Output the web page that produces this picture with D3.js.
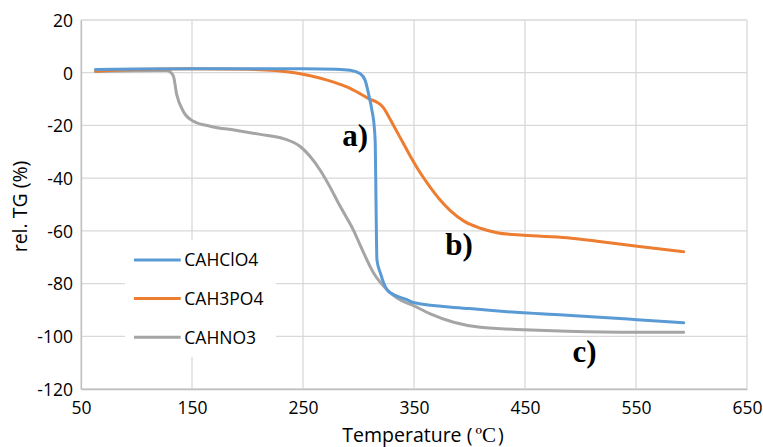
<!DOCTYPE html>
<html>
<head>
<meta charset="utf-8">
<script src="https://cdn.jsdelivr.net/npm/d3@7"></script>
<style>
  body { margin: 0; background: #fff; }
  svg { display: block; }
  text { font-family: 'Open Sans', sans-serif; fill: #000; }
</style>
</head>
<body>
<svg id="chart" width="763" height="447"></svg>
<script>
// series (temperature in degC, rel. TG in %)
const seriesNames = ['CAHClO4', 'CAH3PO4', 'CAHNO3'];
const seriesColors = ['#5b9bd5', '#ed7d31', '#a5a5a5'];

const clo4Temp = [63, 100, 150, 200, 250, 280, 292.6, 301.6, 306, 309, 312.1, 314.2, 315.1, 315.8, 316.6, 319.7, 322.6, 325.6, 331.6, 343.7, 349.4, 400, 448.6, 488, 551, 593];
const clo4TG = [1.2, 1.4, 1.5, 1.5, 1.5, 1.3, 0.9, -0.4, -2.9, -7.9, -14.2, -20.6, -26.9, -50, -71, -76, -79.7, -82.3, -84.2, -86.1, -87.2, -89.5, -91.1, -92, -93.7, -94.9];

const h3po4Temp = [63, 100, 150, 200, 225, 247.5, 265, 277, 290, 301.6, 310, 316.6, 322.6, 327, 331.6, 340, 346.7, 355, 364.7, 373, 382.7, 395, 409.8, 424.8, 448.8, 488, 515, 551, 593];
const h3po4TG = [0.6, 1.2, 1.5, 1.3, 0.8, -0.4, -2, -3.5, -5.5, -8, -10, -11.2, -13.3, -16.5, -20, -26.5, -31.7, -37.6, -43.5, -48, -52.3, -56.3, -59, -60.7, -61.7, -62.6, -63.9, -65.8, -67.9];

const hno3Temp = [63, 100, 127, 133, 136.3, 142.2, 151.3, 166.3, 190.4, 211.4, 232.4, 247.5, 256.5, 265.5, 274.5, 282, 289.6, 295.5, 301.6, 313.6, 325.6, 334.7, 349.6, 364.7, 385.7, 409.8, 448.8, 487.9, 551, 593];
const hno3TG = [0.5, 0.7, 0.8, -1, -8.4, -14.7, -18.4, -20.3, -21.9, -23.4, -25, -28, -31.8, -37, -43.5, -49.5, -55.2, -59.8, -65.5, -76, -82.3, -85.5, -88.4, -91.5, -94.7, -96.6, -97.5, -98.1, -98.5, -98.5];

const xTicks = [50, 150, 250, 350, 450, 550, 650];
const yTicks = [20, 0, -20, -40, -60, -80, -100, -120];

// where the a) b) c) marks sit, in data units (left edge, baseline)
const labelText = ['a)', 'b)', 'c)'];
const labelTemp = [285.3, 378.2, 492.7];
const labelTG = [-27.9, -69.1, -109.9];

const margin = { top: 20, right: 16, bottom: 58, left: 81 };
let svg = d3.select('#chart'),
    width = +svg.attr('width') - margin.left - margin.right,
    height = +svg.attr('height') - margin.top - margin.bottom,
    g = svg.append('g').attr('transform', `translate(${margin.left},${margin.top})`);

let x = d3.scaleLinear().domain([50, 650]).range([0, width]);
let y = d3.scaleLinear().domain([-120, 20]).range([height, 0]);

// grid
g.append('g')
  .selectAll('line')
  .data(xTicks)
  .enter().append('line')
    .attr('x1', d => x(d)).attr('x2', d => x(d))
    .attr('y1', 0).attr('y2', height)
    .attr('stroke', '#d9d9d9').attr('stroke-width', 1.3);

g.append('g')
  .selectAll('line')
  .data(yTicks)
  .enter().append('line')
    .attr('x1', 0).attr('x2', width)
    .attr('y1', d => y(d)).attr('y2', d => y(d))
    .attr('stroke', '#d9d9d9').attr('stroke-width', 1.3);

// axes, plain hyphen for the minus like the original
let xAxis = g.append('g')
  .attr('transform', `translate(0,${height})`)
  .call(d3.axisBottom(x).tickValues(xTicks).tickSize(0).tickPadding(13).tickFormat(d => String(d)));
let yAxis = g.append('g')
  .call(d3.axisLeft(y).tickValues(yTicks).tickSize(0).tickPadding(8).tickFormat(d => String(d)));

[xAxis, yAxis].forEach(a => {
  a.select('.domain').attr('stroke', '#bfbfbf').attr('stroke-width', 1.3);
  a.selectAll('text')
    .style('font-family', "'Open Sans', sans-serif")
    .style('font-size', '17.5px')
    .attr('fill', '#000');
});
yAxis.selectAll('text').attr('dy', '0.36em');
xAxis.selectAll('text').attr('dy', '0.71em');

// legend box sits over the grid
let legend = g.append('g').attr('transform', 'translate(44,220)');
legend.append('rect')
  .attr('width', 151).attr('height', 117)
  .attr('fill', '#fff');

let entries = legend.selectAll('g')
  .data(seriesNames)
  .enter().append('g')
    .attr('transform', (d, i) => `translate(0,${20 + i * 38.6})`);
entries.append('line')
  .attr('x1', 9).attr('x2', 55.7)
  .attr('stroke', (d, i) => seriesColors[i])
  .attr('stroke-width', 3);
entries.append('text')
  .attr('x', 59.3).attr('dy', '0.36em')
  .style('font-size', '17.5px')
  .text(d => d);

// curves
let series = [
  { name: seriesNames[0], temp: clo4Temp, tg: clo4TG },
  { name: seriesNames[1], temp: h3po4Temp, tg: h3po4TG },
  { name: seriesNames[2], temp: hno3Temp, tg: hno3TG }
];

let line = d3.line()
  .x(d => x(d[0]))
  .y(d => y(d[1]))
  .curve(d3.curveMonotoneX);

// grey first so blue and orange sit on top like the original
[2, 1, 0].forEach(i => {
  let s = series[i];
  g.append('path')
    .datum(s.temp.map((t, k) => [t, s.tg[k]]))
    .attr('fill', 'none')
    .attr('stroke', seriesColors[i])
    .attr('stroke-width', 3)
    .attr('stroke-linejoin', 'round')
    .attr('stroke-linecap', 'round')
    .attr('d', line);
});

// a) b) c) markers
g.selectAll('text.lbl')
  .data(labelText)
  .enter().append('text')
    .attr('class', 'lbl')
    .attr('x', (d, i) => x(labelTemp[i]))
    .attr('y', (d, i) => y(labelTG[i]))
    .style('font-family', "'Liberation Serif', 'Times New Roman', serif")
    .style('font-weight', 'bold')
    .style('font-size', '31px')
    .text(d => d);

// axis titles
svg.append('text')
  .attr('transform', `translate(27,${margin.top + height / 2 + 2}) rotate(-90)`)
  .attr('text-anchor', 'middle')
  .style('font-size', '19.5px')
  .text('rel. TG (%)');

let xt = svg.append('text')
  .attr('x', margin.left + width / 2 + 9)
  .attr('y', 441.5)
  .attr('text-anchor', 'middle')
  .style('font-size', '19.5px');
xt.append('tspan').text('Temperature (');
xt.append('tspan')
  .style('font-family', "'Liberation Serif', serif")
  .style('font-size', '21px')
  .attr('dx', 3)
  .text('ºC');
xt.append('tspan').attr('dx', 2).text(')');
</script>
</body>
</html>
